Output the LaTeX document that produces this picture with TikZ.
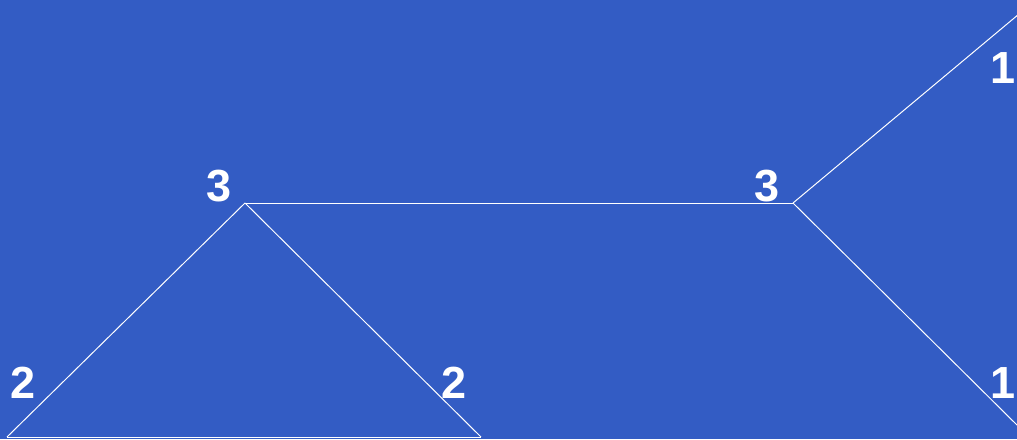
\documentclass[tikz,border=0pt]{standalone}
\usepackage{fontspec}
\setmainfont{Liberation Sans}
\definecolor{bgblue}{RGB}{51,92,196}
\begin{document}
\begin{tikzpicture}[x=1pt,y=-1pt,
  edge/.style={draw=white,line width=1pt},
  lbl/.style={text=white,font=\fontsize{45}{54}\selectfont\bfseries,inner sep=0pt}]
\fill[bgblue] (0,0) rectangle (1017,439);
\useasboundingbox (0,0) rectangle (1017,439);
\coordinate (a) at (245,203);
\coordinate (b) at (793,203);
\coordinate (c) at (1019,14);
\coordinate (d) at (1019,427);
\coordinate (e) at (7,437);
\coordinate (f) at (481,437);
\draw[edge] (a) -- (b);
\draw[edge] (b) -- (c);
\draw[edge] (b) -- (d);
\draw[edge] (a) -- (e);
\draw[edge] (a) -- (f);
\draw[edge] (e) -- (f);
\node[lbl] (la) at (219,186) {3};
\node[lbl] (lb) at (767.5,186) {3};
\node[lbl] (lc) at (1002.5,68) {1};
\node[lbl] (ld) at (1002.5,383) {1};
\node[lbl] (le) at (23.5,383) {2};
\node[lbl] (lf) at (454,383) {2};
\end{tikzpicture}
\end{document}
